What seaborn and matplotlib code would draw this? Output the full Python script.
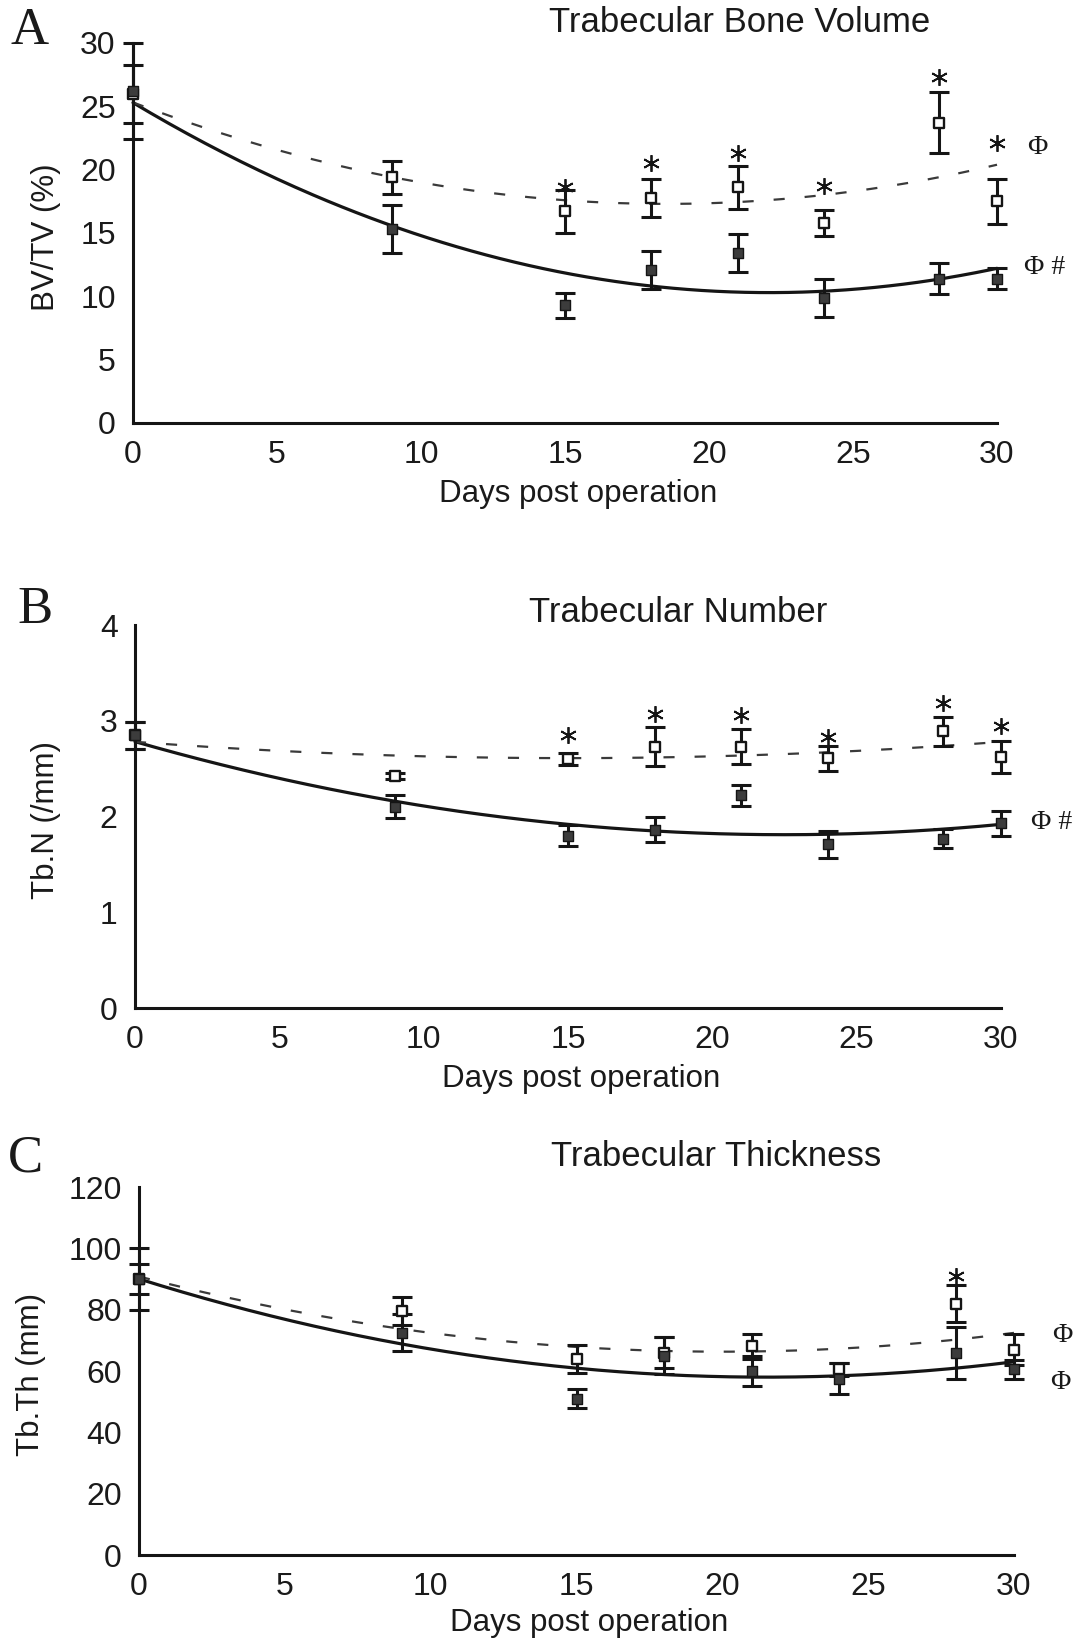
import numpy as np
import pandas as pd
import matplotlib
matplotlib.use("Agg")
import matplotlib.pyplot as plt
import seaborn as sns

# ---------------- data ----------------
days = [0, 9, 15, 18, 21, 24, 28, 30]

# Panel A: Trabecular bone volume (BV/TV, %)
bv_open = [26.0, 19.4, 16.7, 17.8, 18.6, 15.8, 23.7, 17.5]
bv_open_err = [2.3, 1.3, 1.7, 1.5, 1.7, 1.0, 2.4, 1.8]
bv_filled = [26.2, 15.3, 9.3, 12.1, 13.4, 9.9, 11.4, 11.4]
bv_filled_err = [3.8, 1.9, 1.0, 1.5, 1.5, 1.5, 1.2, 0.8]
bv_fit_open = [0.0234, -0.866, 25.31]      # quadratic fit coefficients (dashed)
bv_fit_filled = [0.0307, -1.357, 25.29]    # quadratic fit coefficients (solid)
bv_star_days = [15, 18, 21, 24, 28, 30]
bv_star_y = [18.6, 20.5, 21.3, 18.7, 27.3, 22.1]

# Panel B: Trabecular number (Tb.N, /mm)
tbn_open = [2.85, 2.42, 2.60, 2.73, 2.73, 2.61, 2.89, 2.62]
tbn_open_err = [0.14, 0.03, 0.06, 0.20, 0.18, 0.13, 0.15, 0.17]
tbn_filled = [2.85, 2.10, 1.80, 1.86, 2.22, 1.71, 1.77, 1.93]
tbn_filled_err = [0.14, 0.12, 0.11, 0.13, 0.11, 0.14, 0.10, 0.13]
tbn_fit_open = [0.000756, -0.0227, 2.780]
tbn_fit_filled = [0.00192, -0.0864, 2.782]
tbn_star_days = [15, 18, 21, 24, 28, 30]
tbn_star_y = [2.85, 3.07, 3.06, 2.83, 3.19, 2.95]

# Panel C: Trabecular thickness (Tb.Th, mm)
tbth_open = [90.0, 79.5, 64.0, 66.0, 68.0, 60.5, 82.0, 67.0]
tbth_open_err = [5.0, 4.5, 4.6, 5.0, 4.0, 2.0, 6.0, 5.0]
tbth_filled = [90.0, 72.5, 51.0, 65.0, 60.0, 57.5, 66.0, 60.5]
tbth_filled_err = [10.0, 6.0, 3.0, 6.0, 5.0, 5.0, 8.5, 3.0]
tbth_fit_open = [0.0613, -2.452, 90.82]
tbth_fit_filled = [0.0693, -2.980, 90.03]
tbth_star_days = [28]
tbth_star_y = [91.0]

titles = ["Trabecular Bone Volume", "Trabecular Number", "Trabecular Thickness"]
ylabels = ["BV/TV (%)", "Tb.N (/mm)", "Tb.Th (mm)"]
letters = ["A", "B", "C"]
xlabel = "Days post operation"
xticks = [0, 5, 10, 15, 20, 25, 30]
yticks_list = [[0, 5, 10, 15, 20, 25, 30], [0, 1, 2, 3, 4], [0, 20, 40, 60, 80, 100, 120]]
sig_labels = [[("Φ", 1037, 147), ("Φ #", 1045, 267)],
              [("Φ #", 1052, 822)],
              [("Φ", 1062, 1335), ("Φ", 1060, 1382)]]

# ---------------- style ----------------
sns.set_style("white")
plt.rcParams["font.family"] = ["Liberation Sans", "DejaVu Sans"]

W, H = 1077, 1644
fig = plt.figure(figsize=(W / 100, H / 100), dpi=100)

# axes rects in pixels: left, top, right, bottom
rects_px = [(133, 43, 997, 423), (135, 625, 1001, 1008), (139, 1187, 1014, 1555)]
title_pos = [(740, 23), (678, 613), (716, 1157)]
letter_pos = [(30, 31), (35, 610), (25, 1158)]
ylabel_x_px = [46, 46, 31]

panels = [
    (bv_open, bv_open_err, bv_filled, bv_filled_err, bv_fit_open, bv_fit_filled, bv_star_days, bv_star_y),
    (tbn_open, tbn_open_err, tbn_filled, tbn_filled_err, tbn_fit_open, tbn_fit_filled, tbn_star_days, tbn_star_y),
    (tbth_open, tbth_open_err, tbth_filled, tbth_filled_err, tbth_fit_open, tbth_fit_filled, tbth_star_days, tbth_star_y),
]

INK = "#151515"
x_fine = np.linspace(0, 30, 241)

for i, (op, ope, fi, fie, fit_o, fit_f, sd, sy) in enumerate(panels):
    l, t, r, b = rects_px[i]
    ax = fig.add_axes([l / W, 1 - b / H, (r - l) / W, (b - t) / H])

    fit_df = pd.DataFrame({"day": x_fine,
                           "open": np.polyval(fit_o, x_fine),
                           "filled": np.polyval(fit_f, x_fine)})
    pts = pd.DataFrame({"day": days, "open": op, "open_err": ope,
                        "filled": fi, "filled_err": fie})

    sns.lineplot(data=fit_df, x="day", y="filled", ax=ax, color=INK, lw=2.3, zorder=2)
    sns.lineplot(data=fit_df, x="day", y="open", ax=ax, color="#3a3a3a", lw=1.6,
                 linestyle=(0, (5.0, 9.0)), zorder=2)

    ax.errorbar(pts["day"], pts["filled"], yerr=pts["filled_err"], fmt="none",
                ecolor=INK, elinewidth=2.2, capsize=7, capthick=2.2, zorder=3)
    ax.errorbar(pts["day"], pts["open"], yerr=pts["open_err"], fmt="none",
                ecolor=INK, elinewidth=2.2, capsize=7, capthick=2.2, zorder=3)

    sns.scatterplot(data=pts, x="day", y="open", ax=ax, marker="s", s=42,
                    facecolor="white", edgecolor=INK, linewidth=1.7, zorder=5)
    sns.scatterplot(data=pts, x="day", y="filled", ax=ax, marker="s", s=55,
                    color="#3c3c3c", edgecolor=INK, linewidth=1.0, zorder=6)

    ax.plot(sd, sy, linestyle="none", marker=(6, 2, 0), markersize=12,
            markeredgewidth=1.3, color=INK, zorder=7)

    yt = yticks_list[i]
    ax.set_xlim(0, 30)
    ax.set_ylim(yt[0], yt[-1])
    ax.set_xticks(xticks)
    ax.set_yticks(yt)
    ax.set_xticklabels([str(v) for v in xticks])
    ax.set_yticklabels([str(v) for v in yt])

    for s in ["top", "right"]:
        ax.spines[s].set_visible(False)
    for s in ["left", "bottom"]:
        ax.spines[s].set_linewidth(2.2)
        ax.spines[s].set_color(INK)
    ax.tick_params(axis="x", direction="inout", length=16, width=2.0, color=INK,
                   labelsize=23, pad=4, labelcolor="#1a1a1a")
    ax.tick_params(axis="y", direction="inout", length=13, width=2.0, color=INK,
                   labelsize=23, pad=6, labelcolor="#1a1a1a")

    ax.set_xlabel(xlabel, fontsize=22.5, color="#1a1a1a")
    ax.set_ylabel(ylabels[i], fontsize=22.5, color="#1a1a1a")
    ax.xaxis.label.set_va("center")
    ax.yaxis.label.set_va("center")
    ax.xaxis.set_label_coords(0.515, -0.186)
    ax.yaxis.set_label_coords((ylabel_x_px[i] - l) / (r - l), 0.49)

    for ch in ax.get_children():
        try:
            ch.set_clip_on(False)
        except Exception:
            pass

    tx, ty = title_pos[i]
    fig.text(tx / W, 1 - ty / H, titles[i], ha="center", va="center",
             fontsize=25, color="#1a1a1a")
    lx, ly = letter_pos[i]
    fig.text(lx / W, 1 - ly / H, letters[i], ha="center", va="center",
             fontsize=38, family=["Liberation Serif", "DejaVu Serif"], color="#1a1a1a")
    for txt, px, py in sig_labels[i]:
        fig.text(px / W, 1 - py / H, txt, ha="center", va="center",
                 fontsize=20, family=["Liberation Serif", "DejaVu Serif"], color="#1a1a1a")

fig.savefig("out.png", dpi=100, facecolor="white")
